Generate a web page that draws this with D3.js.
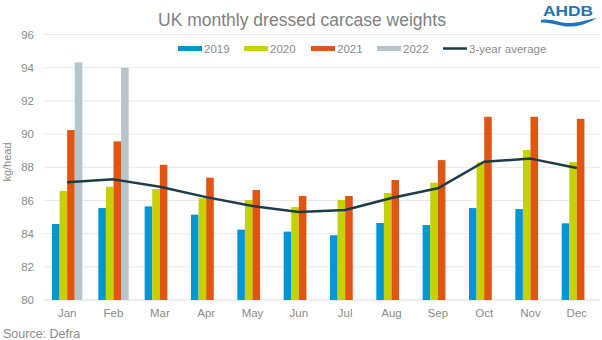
<!DOCTYPE html>
<html>
<head>
<meta charset="utf-8">
<script src="https://cdn.jsdelivr.net/npm/d3@7"></script>
<style>
  body { margin: 0; background: #fff; }
  text { font-family: "Liberation Sans", Arial, sans-serif; }
</style>
</head>
<body>
<svg id="chart" width="602" height="340"></svg>
<script>
const months = ['Jan','Feb','Mar','Apr','May','Jun','Jul','Aug','Sep','Oct','Nov','Dec'];
const years = ['2019','2020','2021','2022'];
const v2019 = [84.58, 85.54, 85.64, 85.14, 84.24, 84.12, 83.90, 84.64, 84.52, 85.54, 85.48, 84.62];
const v2020 = [86.57, 86.83, 86.69, 86.13, 86.02, 85.60, 86.04, 86.45, 87.07, 88.30, 89.04, 88.31];
const v2021 = [90.24, 89.56, 88.15, 87.37, 86.63, 86.27, 86.27, 87.23, 88.43, 91.04, 91.04, 90.92];
const v2022 = [94.32, 93.99];
const avg3 = [87.10, 87.27, 86.83, 86.20, 85.66, 85.30, 85.42, 86.15, 86.73, 88.33, 88.52, 87.95];
const yTicks = [80, 82, 84, 86, 88, 90, 92, 94, 96];

const colors = { '2019': '#0096D6', '2020': '#C5D200', '2021': '#E05512', '2022': '#B6C4CC' };
const lineColor = '#1D3C47';
const textGrey = '#8a8a8a';
const series = { '2019': v2019, '2020': v2020, '2021': v2021, '2022': v2022 };

const svg = d3.select('#chart');
const plotLeft = 44, plotRight = 600, plotTop = 34.5, plotBottom = 300;

const x = d3.scaleBand().domain(months).range([plotLeft, plotRight]).paddingInner(0).paddingOuter(0);
const inner = d3.scaleBand().domain(years).range([8, x.bandwidth() - 8]);
const y = d3.scaleLinear().domain([80, 96]).range([plotBottom, plotTop]);

// gridlines
svg.append('g')
  .selectAll('line')
  .data(yTicks)
  .join('line')
  .attr('x1', plotLeft).attr('x2', plotRight)
  .attr('y1', d => y(d)).attr('y2', d => y(d))
  .attr('stroke', d => d === 80 ? '#d9d9d9' : '#e8e8e8')
  .attr('stroke-width', 1);

// y axis labels
const yAxis = svg.append('g')
  .attr('transform', `translate(${plotLeft - 10},0)`)
  .call(d3.axisLeft(y).tickValues(yTicks).tickSize(0).tickPadding(0));
yAxis.select('.domain').remove();
yAxis.selectAll('text')
  .attr('fill', textGrey)
  .style('font-size', '11.5px')
  .style('font-family', '"Liberation Sans", Arial, sans-serif');

// x axis labels
const xAxis = svg.append('g')
  .attr('transform', `translate(0,${plotBottom + 4})`)
  .call(d3.axisBottom(x).tickSize(0).tickPadding(5));
xAxis.select('.domain').remove();
xAxis.selectAll('text')
  .attr('fill', textGrey)
  .style('font-size', '11.5px')
  .style('font-family', '"Liberation Sans", Arial, sans-serif');

// bars
years.forEach(yr => {
  svg.append('g')
    .selectAll('rect')
    .data(series[yr].map((v, i) => ({ m: months[i], v })))
    .join('rect')
    .attr('x', d => x(d.m) + inner(yr))
    .attr('width', inner.bandwidth())
    .attr('y', d => y(d.v))
    .attr('height', d => y(80) - y(d.v))
    .attr('fill', colors[yr]);
});

// 3-year average line
const line = d3.line()
  .x((d, i) => x(months[i]) + x.bandwidth() / 2)
  .y(d => y(d));
svg.append('path')
  .datum(avg3)
  .attr('d', line)
  .attr('fill', 'none')
  .attr('stroke', lineColor)
  .attr('stroke-width', 2.5)
  .attr('stroke-linejoin', 'round');

// title
svg.append('text')
  .attr('x', 302).attr('y', 26)
  .attr('text-anchor', 'middle')
  .attr('fill', '#7f7f7f')
  .style('font-size', '17.5px')
  .text('UK monthly dressed carcase weights');

// legend
const legendItems = [
  { label: '2019', x: 178, type: 'bar', color: colors['2019'] },
  { label: '2020', x: 244, type: 'bar', color: colors['2020'] },
  { label: '2021', x: 311, type: 'bar', color: colors['2021'] },
  { label: '2022', x: 377, type: 'bar', color: colors['2022'] },
  { label: '3-year average', x: 443, type: 'line', color: lineColor }
];
const lg = svg.append('g');
legendItems.forEach(it => {
  if (it.type === 'bar') {
    lg.append('rect').attr('x', it.x).attr('y', 46).attr('width', 24).attr('height', 5).attr('fill', it.color);
  } else {
    lg.append('line').attr('x1', it.x).attr('x2', it.x + 24).attr('y1', 48.5).attr('y2', 48.5)
      .attr('stroke', it.color).attr('stroke-width', 2.5);
  }
  lg.append('text')
    .attr('x', it.x + 26).attr('y', 52.5)
    .attr('fill', textGrey)
    .style('font-size', '11.5px')
    .text(it.label);
});

// y axis title
svg.append('text')
  .attr('transform', 'translate(11,162) rotate(-90)')
  .attr('text-anchor', 'middle')
  .attr('fill', textGrey)
  .style('font-size', '11px')
  .text('kg/head');

// source
svg.append('text')
  .attr('x', 3).attr('y', 337.5)
  .attr('fill', textGrey)
  .style('font-size', '12.5px')
  .text('Source: Defra');

// AHDB logo
const logo = svg.append('g');
logo.append('text')
  .attr('x', 543).attr('y', 16)
  .attr('textLength', 50)
  .attr('lengthAdjust', 'spacingAndGlyphs')
  .attr('fill', '#1F74BC')
  .style('font-size', '15.5px')
  .style('font-weight', 'bold')
  .text('AHDB');
logo.append('path')
  .attr('d', 'M541,20 C552,18 560,24 572,23 C582,22 590,19 597,18 C590,22 582,26 572,26.5 C560,27 552,22 541,22.5 Z')
  .attr('fill', '#1F74BC');
</script>
</body>
</html>
